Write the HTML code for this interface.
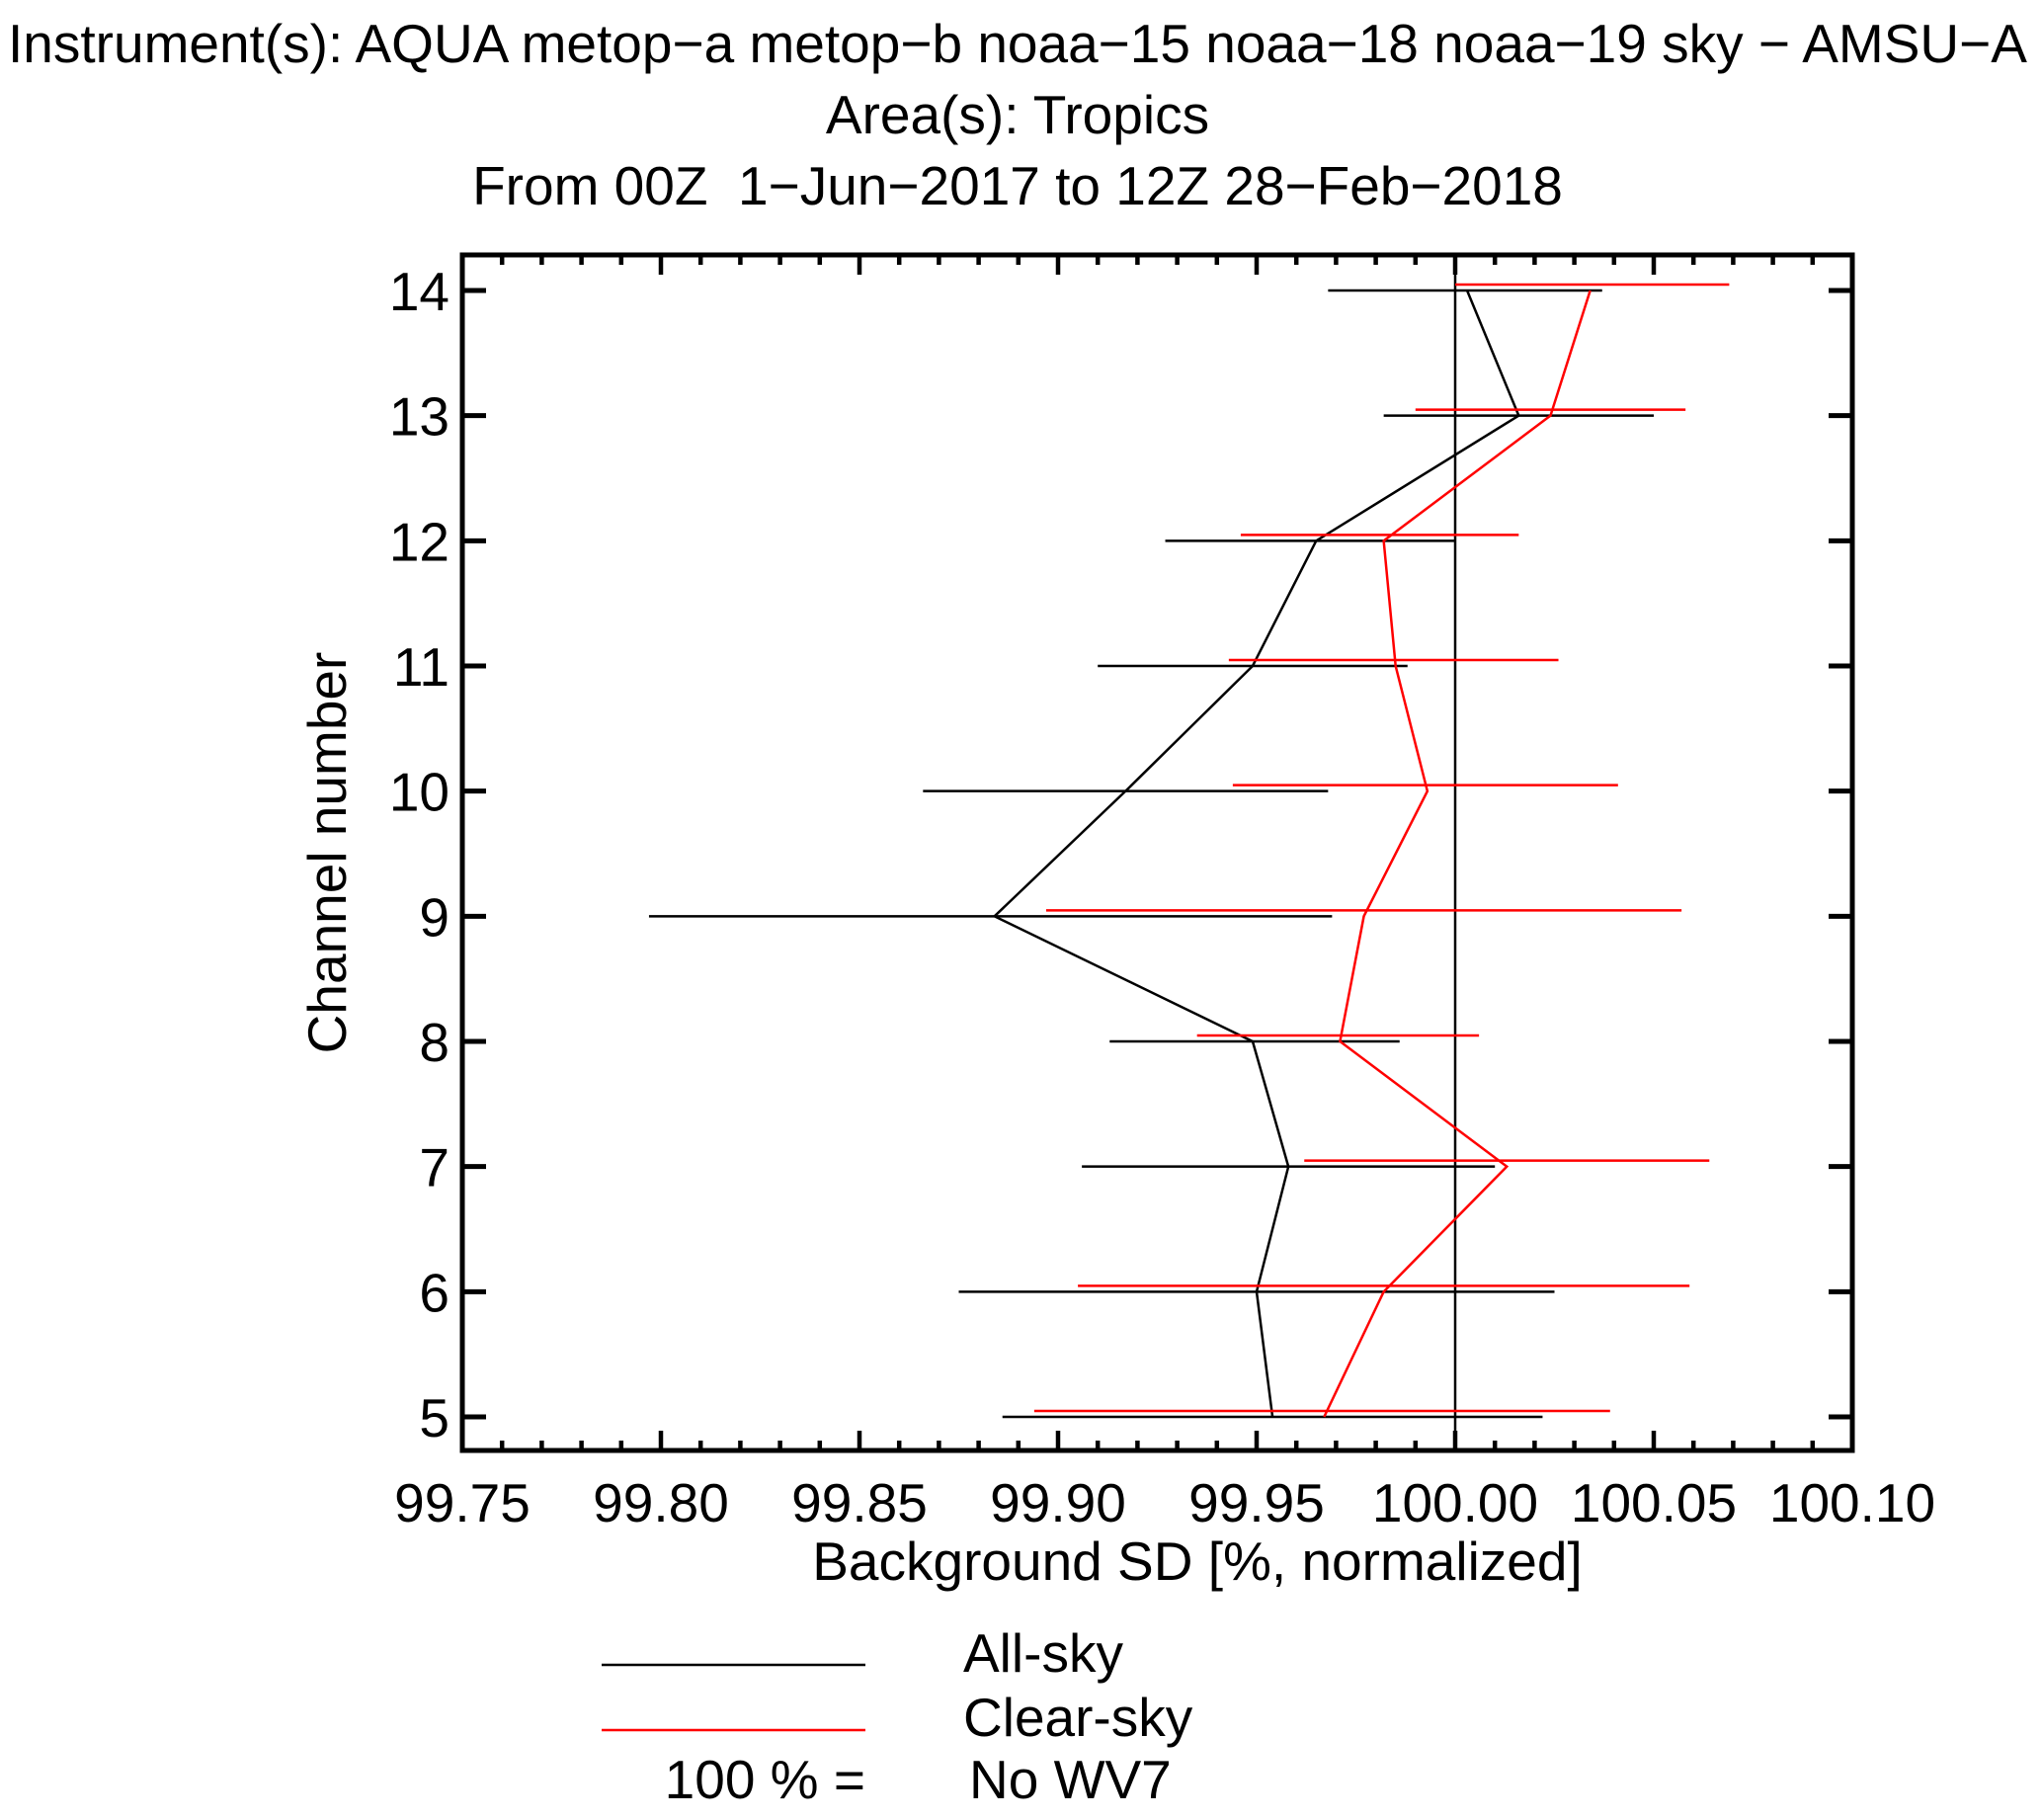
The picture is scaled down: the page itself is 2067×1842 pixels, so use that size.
<!DOCTYPE html>
<html><head><meta charset="utf-8">
<style>
html,body{margin:0;padding:0;background:#fff;}
svg{display:block;font-family:"Liberation Sans",Arial,sans-serif;}
</style></head>
<body>
<svg id="chart" width="2067" height="1842" viewBox="0 0 2067 1842" xmlns="http://www.w3.org/2000/svg">
<g font-size="55" text-anchor="middle" fill="#000">
<text x="1030" y="63">Instrument(s): AQUA metop−a metop−b noaa−15 noaa−18 noaa−19 sky − AMSU−A</text>
<text x="1030" y="135">Area(s): Tropics</text>
<text x="1030" y="207" xml:space="preserve">From 00Z  1−Jun−2017 to 12Z 28−Feb−2018</text>
</g>
<g id="plot"></g>
<text x="1212" y="1599" font-size="55" text-anchor="middle">Background SD [%, normalized]</text>
<text transform="translate(350,863) rotate(-90)" font-size="55" text-anchor="middle">Channel number</text>
<g font-size="55">
<line x1="609" y1="1685" x2="876" y2="1685" stroke="#000" stroke-width="2.5"/>
<text x="975" y="1692">All-sky</text>
<line x1="609" y1="1751" x2="876" y2="1751" stroke="#f00" stroke-width="2.5"/>
<text x="975" y="1757">Clear-sky</text>
<text x="876" y="1820" text-anchor="end">100 % =</text>
<text x="981" y="1820">No WV7</text>
</g>
</svg>
<script>
const channels = [14,13,12,11,10,9,8,7,6,5];
const allCenter = [100.003,100.016,99.965,99.949,99.917,99.884,99.949,99.958,99.950,99.954];
const allLo     = [99.968,99.982,99.927,99.910,99.866,99.797,99.913,99.906,99.875,99.886];
const allHi     = [100.037,100.050,100.000,99.988,99.968,99.969,99.986,100.010,100.025,100.022];
const clrCenter = [100.034,100.024,99.982,99.985,99.993,99.977,99.971,100.013,99.982,99.967];
const clrLo     = [100.000,99.990,99.946,99.943,99.944,99.897,99.935,99.962,99.905,99.894];
const clrHi     = [100.069,100.058,100.016,100.026,100.041,100.057,100.006,100.064,100.059,100.039];
const xTicks = ["99.75","99.80","99.85","99.90","99.95","100.00","100.05","100.10"];
const referenceValue = 100.0;

const L=468,R=1875,T=258,B=1468;
const xMin=99.75,xMax=100.10;
const X=v=>L+(v-xMin)/(xMax-xMin)*(R-L);
const Y=c=>294+(14-c)*(1434-294)/9;
const NS="http://www.w3.org/2000/svg";
const plot=document.getElementById('plot');
function mk(tag,attrs,parent){const e=document.createElementNS(NS,tag);for(const k in attrs)e.setAttribute(k,attrs[k]);(parent||plot).appendChild(e);return e;}

const ref=mk('line',{x1:X(referenceValue),x2:X(referenceValue),y1:T,y2:B,stroke:'#000','stroke-width':2.5});



function series(center,lo,hi,color,name,off){
  const g=mk('g',{});
  
  
  channels.forEach((c,i)=>{
    const eb=mk('line',{x1:X(lo[i]),x2:X(hi[i]),y1:Y(c)+off,y2:Y(c)+off,stroke:color,'stroke-width':2.5},g);
    
    
  });
  const pts=channels.map((c,i)=>X(center[i])+','+Y(c)).join(' ');
  const pl=mk('polyline',{points:pts,fill:'none',stroke:color,'stroke-width':2.5},g);
  
  
}
series(allCenter,allLo,allHi,'#000','all-sky',0);
series(clrCenter,clrLo,clrHi,'#f00','clear-sky',-6);

const box=mk('rect',{x:L,y:T,width:R-L,height:B-T,fill:'none',stroke:'#000','stroke-width':5});



for(let i=0;i<=35;i++){
  const v=xMin+i*0.01, x=X(v), len=(i%5===0)?20:10;
  const t1=mk('line',{x1:x,x2:x,y1:B,y2:B-len,stroke:'#000','stroke-width':4.5});
  
  
  const t2=mk('line',{x1:x,x2:x,y1:T,y2:T+len,stroke:'#000','stroke-width':4.5});
  
  
}
xTicks.forEach(s=>{
  const t=mk('text',{x:X(parseFloat(s)),y:1540,'font-size':55,'text-anchor':'middle'});
  t.textContent=s;
  
  
});
channels.forEach(c=>{
  const y=Y(c);
  const a=mk('line',{x1:L,x2:L+24,y1:y,y2:y,stroke:'#000','stroke-width':5});
  
  
  const b=mk('line',{x1:R,x2:R-24,y1:y,y2:y,stroke:'#000','stroke-width':5});
  
  
  const t=mk('text',{x:455,y:y+20,'font-size':55,'text-anchor':'end'});
  t.textContent=c;
  
  
});
</script>
</body></html>
